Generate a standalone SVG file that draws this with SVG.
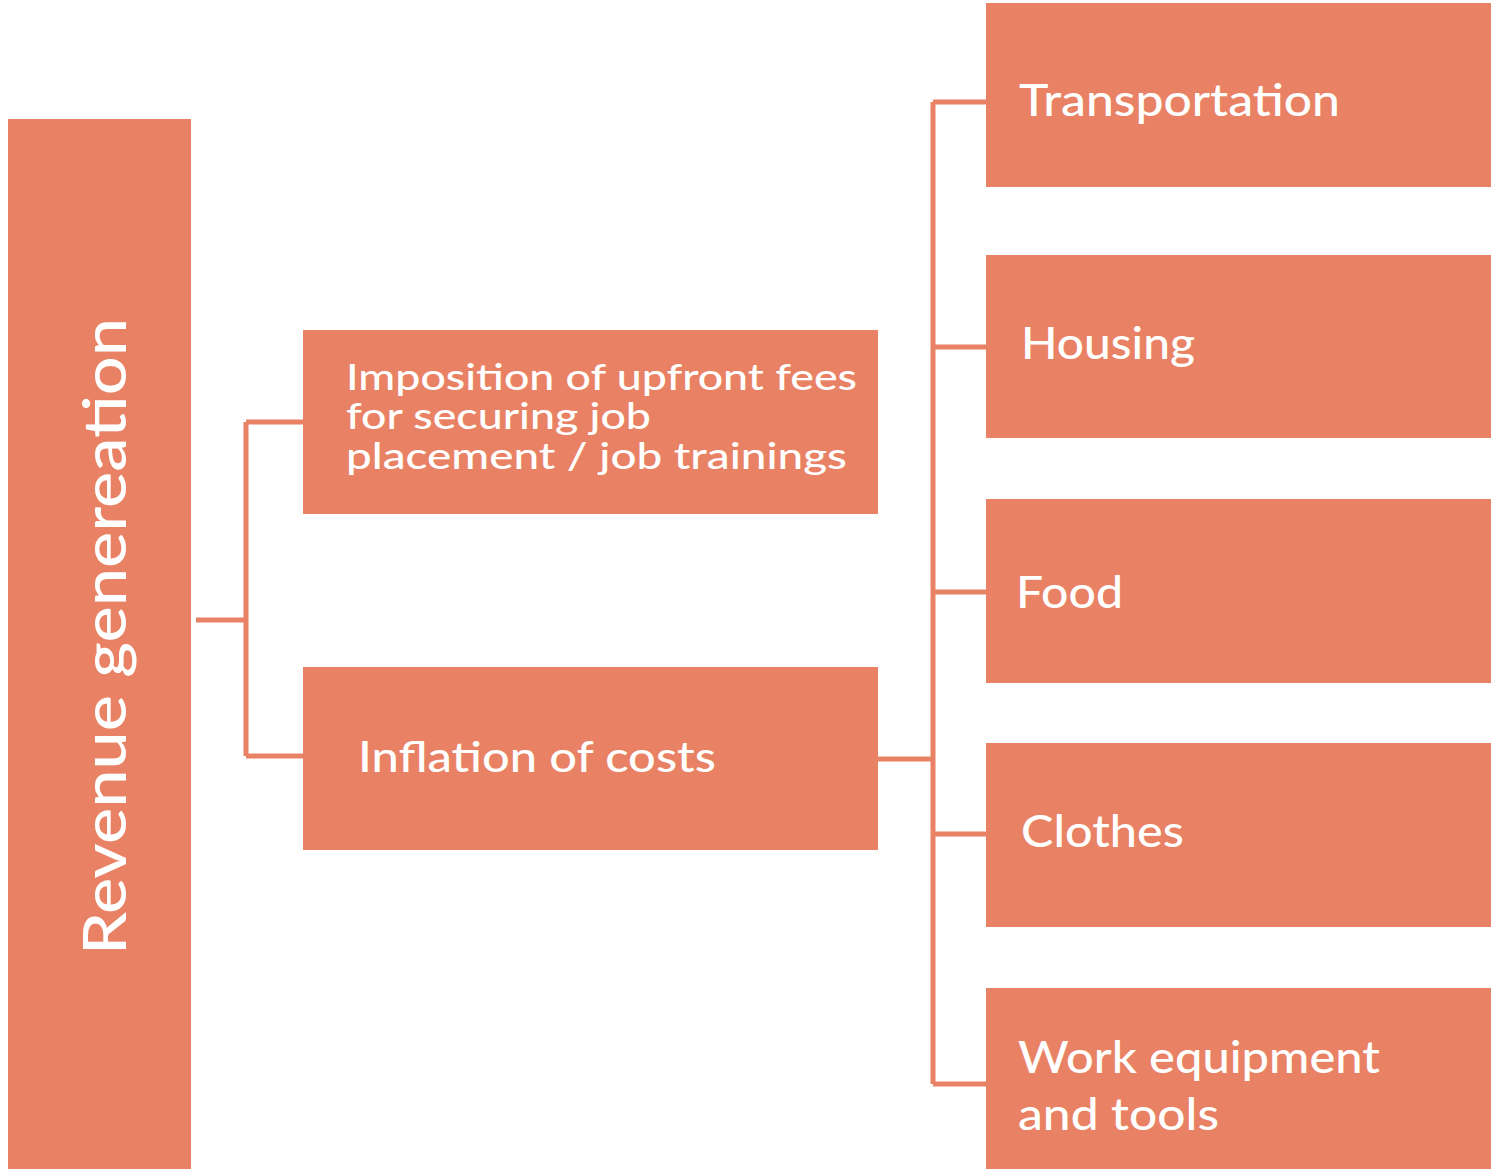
<svg xmlns="http://www.w3.org/2000/svg" width="1491" height="1169" viewBox="0 0 1491 1169">
<style>
.box{fill:#E98264}
.t{fill:#FFFFFF;font-family:Lato,"Liberation Sans",sans-serif;font-weight:500}
.c{fill:none;stroke:#E98264;stroke-width:5;stroke-linejoin:miter}
</style>
<rect width="1491" height="1169" fill="#FFFFFF"/>
<g id="connectors">
<path class="c" d="M196 620 H246 M246 422 V756 M246 422 H303 M246 756 H303"/>
<path class="c" d="M878 759 H933 M933 102 V1084 M933 102 H986 M933 347 H986 M933 592 H986 M933 834 H986 M933 1084 H986"/>
</g>
<g id="revenue">
<rect class="box" x="8" y="119" width="183" height="1050"/>
<text class="t" transform="translate(126,636.5) rotate(-90)" text-anchor="middle" font-size="60" textLength="637" lengthAdjust="spacingAndGlyphs">Revenue genereation</text>
</g>
<g id="upfront">
<rect class="box" x="303" y="330" width="575" height="184"/>
<text class="t" font-size="36"><tspan x="346" y="390" textLength="511" lengthAdjust="spacingAndGlyphs">Imposition of upfront fees</tspan><tspan x="346" y="429" textLength="305" lengthAdjust="spacingAndGlyphs">for securing job</tspan><tspan x="346" y="469" textLength="501" lengthAdjust="spacingAndGlyphs">placement / job trainings</tspan></text>
</g>
<g id="inflation">
<rect class="box" x="303" y="667" width="575" height="183"/>
<text class="t" x="358" y="772" font-size="42" textLength="358" lengthAdjust="spacingAndGlyphs">Inflation of costs</text>
</g>
<g id="transportation">
<rect class="box" x="986" y="3" width="505" height="184"/>
<text class="t" x="1019" y="116" font-size="44" textLength="321" lengthAdjust="spacingAndGlyphs">Transportation</text>
</g>
<g id="housing">
<rect class="box" x="986" y="255" width="505" height="183"/>
<text class="t" x="1021" y="359" font-size="44" textLength="174" lengthAdjust="spacingAndGlyphs">Housing</text>
</g>
<g id="food">
<rect class="box" x="986" y="499" width="505" height="184"/>
<text class="t" x="1016" y="608" font-size="44" textLength="107" lengthAdjust="spacingAndGlyphs">Food</text>
</g>
<g id="clothes">
<rect class="box" x="986" y="743" width="505" height="184"/>
<text class="t" x="1021" y="847" font-size="44" textLength="163" lengthAdjust="spacingAndGlyphs">Clothes</text>
</g>
<g id="work">
<rect class="box" x="986" y="988" width="505" height="181"/>
<text class="t" font-size="44"><tspan x="1018" y="1073" textLength="362" lengthAdjust="spacingAndGlyphs">Work equipment</tspan><tspan x="1018" y="1130" textLength="201" lengthAdjust="spacingAndGlyphs">and tools</tspan></text>
</g>
</svg>
